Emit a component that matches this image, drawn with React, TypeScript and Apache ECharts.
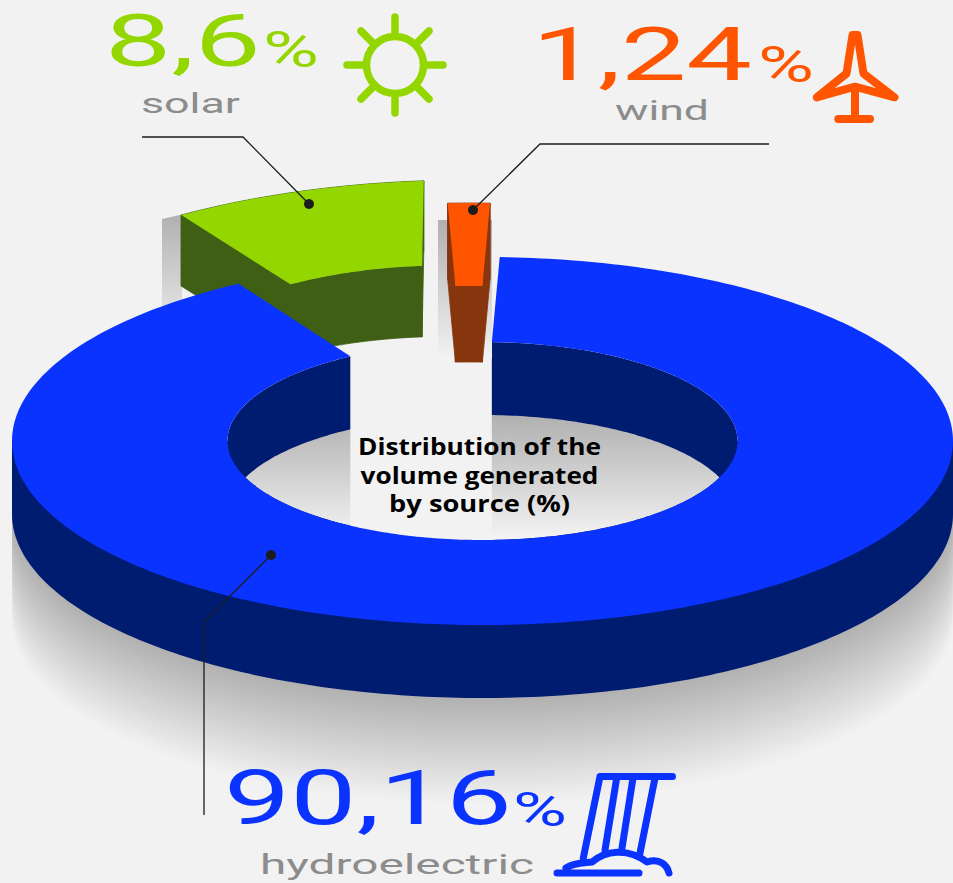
import React, { useEffect, useRef } from "react";
import * as echarts from "echarts";

// Source shares of generated volume, in percent.
const sourceNames = ["hydroelectric", "solar", "wind"];
const sourceShares = [90.16, 8.6, 1.24];
const shareLabels = ["90,16", "8,6", "1,24"];
const chartTitle = ["Distribution of the", "volume generated", "by source (%)"];

const WIDTH = 953;
const HEIGHT = 883;
const BG = "#f2f2f2";
const GREY_TEXT = "#8c8c8c";
const LEADER = "#1c1c1c";
const BLUE = "#0a33ff";
const BLUE_DARK = "#001c70";
const GREEN = "#94d600";
const GREEN_DARK = "#3f5f14";
const ORANGE = "#ff5500";
const ORANGE_DARK = "#87350d";

const DEG_PER_PERCENT = 3.6;
const RING = { cx: 482.5, cy: 441, rx: 470.5, ry: 184, innerRx: 255, innerRy: 99, depth: 73 };

// Placement of each ring slice: the two small ones are pulled out of the ring.
const hydroSlice = { start: 2.1, pad: 2.1, cx: RING.cx, cy: RING.cy, depth: RING.depth, shear: 0 };
const solarSlice = { start: -30.5, pad: 0, cx: 420, cy: 365, depth: 71, shear: -0.036, top: GREEN, side: GREEN_DARK };
const windSlice = {
  start: -2.6,
  pad: 0.7,
  cx: 469,
  cy: 387,
  depth: 76,
  shear: 0,
  innerRx: 300,
  innerRy: 101,
  top: ORANGE,
  side: ORANGE_DARK,
};

type Pt = [number, number];

function ellipsePoint(cx: number, cy: number, rx: number, ry: number, deg: number, shear = 0): Pt {
  const a = (deg * Math.PI) / 180;
  const dx = rx * Math.sin(a);
  return [cx + dx, cy - ry * Math.cos(a) + shear * dx];
}

function arcPoints(cx: number, cy: number, rx: number, ry: number, from: number, to: number, shear = 0): Pt[] {
  const steps = Math.max(2, Math.ceil(Math.abs(to - from)));
  const pts: Pt[] = [];
  for (let i = 0; i <= steps; i++) {
    pts.push(ellipsePoint(cx, cy, rx, ry, from + ((to - from) * i) / steps, shear));
  }
  return pts;
}

const lift = (pts: Pt[], dy: number): Pt[] => pts.map(([x, y]) => [x, y + dy] as Pt);
const poly = (points: Pt[], fill: any) => ({ type: "polygon", shape: { points }, style: { fill }, silent: true });
const vGrad = (from: string, to: string) =>
  new echarts.graphic.LinearGradient(0, 0, 0, 1, [
    { offset: 0, color: from },
    { offset: 1, color: to },
  ]);

function sliceEdges(slice: any, share: number) {
  const end = slice.start + share * DEG_PER_PERCENT + slice.pad;
  const outer = arcPoints(slice.cx, slice.cy, RING.rx, RING.ry, slice.start, end, slice.shear);
  const inner = arcPoints(
    slice.cx,
    slice.cy,
    slice.innerRx ?? RING.innerRx,
    slice.innerRy ?? RING.innerRy,
    slice.start,
    end,
    slice.shear,
  );
  return { end, outer, inner };
}

function greyLevel(t: number) {
  const v = Math.round(0xb0 + (0xf2 - 0xb0) * t);
  return `rgb(${v},${v},${v})`;
}

// Everything below the top faces: cast shadow, outer wall, hole and the gap left by the pulled-out slices.
function renderBackdrop(_params: any, api: any) {
  const { inner } = sliceEdges(hydroSlice, api.value(0));
  const children: any[] = [];
  const { cx, cy, rx, ry, innerRx, innerRy, depth } = RING;

  const lowerHalf = (offset: number) => [
    [cx - rx, cy] as Pt,
    ...arcPoints(cx, cy + offset, rx, ry, 270, 90),
    [cx + rx, cy] as Pt,
  ];
  const shadowLength = 108;
  for (let i = 36; i >= 1; i--) {
    const t = i / 36;
    children.push(poly(lowerHalf(depth + shadowLength * t), greyLevel(t)));
  }
  children.push(poly(lowerHalf(depth), BLUE_DARK));

  // Hole: dark inner wall and the lit floor seen through it.
  children.push(poly(arcPoints(cx, cy, innerRx, innerRy, 0, 360), BLUE_DARK));
  const halfGap = Math.acos(depth / 2 / innerRy) * (180 / Math.PI);
  const floor = [
    ...arcPoints(cx, cy + depth, innerRx, innerRy, -halfGap, halfGap),
    ...arcPoints(cx, cy, innerRx, innerRy, 180 - halfGap, 180 + halfGap),
  ];
  children.push(poly(floor, vGrad("#b0b0b0", "#f4f4f4")));

  // The missing wedge opens the far wall down to the floor.
  const left = inner[inner.length - 1][0];
  const right = inner[0][0];
  children.push(
    poly(
      [
        [left, cy - innerRy - 5],
        [right, cy - innerRy - 5],
        [right, cy + innerRy + 5],
        [left, cy + innerRy + 5],
      ],
      BG,
    ),
  );

  // Soft shadows cast behind the pulled-out slices.
  children.push(
    poly(
      [
        [162, 219],
        [182, 214.5],
        [182, 345],
        [162, 345],
      ],
      vGrad("#b0b0b0", BG),
    ),
  );
  children.push(
    poly(
      [
        [438, 220],
        [492, 220],
        [492, 358],
        [438, 358],
      ],
      vGrad("#b0b0b0", BG),
    ),
  );
  return { type: "group", children };
}

function renderDetached(params: any, api: any) {
  const slice = params.dataIndex === 0 ? solarSlice : windSlice;
  const { outer, inner } = sliceEdges(slice, api.value(0));
  const d = slice.depth;
  const oLast = outer[outer.length - 1];
  const iLast = inner[inner.length - 1];
  // A hairline stroke in the wall colour closes the seams between neighbouring faces.
  const wall = (a: Pt[]) => ({
    type: "polygon",
    shape: { points: [...a, ...lift(a, d).reverse()] },
    style: { fill: slice.side, stroke: slice.side, lineWidth: 0.8 },
    silent: true,
  });
  return {
    type: "group",
    children: [
      wall(outer),
      wall(inner),
      wall([outer[0], inner[0]]),
      wall([oLast, iLast]),
      poly([...outer, ...[...inner].reverse()], slice.top),
    ],
  };
}

function renderHydroTop(_params: any, api: any) {
  const { outer, inner } = sliceEdges(hydroSlice, api.value(0));
  return poly([...outer, ...[...inner].reverse()], BLUE);
}

// Line icons for the three sources, in page coordinates.
echarts.graphic.registerShape(
  "sunIcon",
  echarts.graphic.extendPath(
    "M423.5 65A28.5 28.5 0 1 1 366.5 65A28.5 28.5 0 1 1 423.5 65Z" +
      "M395 17V34M395 96V113M347 65H364M426 65H443" +
      "M361 31L372 42M429 31L418 42M361 99L372 88M429 99L418 88",
    {},
  ) as any,
);
echarts.graphic.registerShape(
  "turbineIcon",
  echarts.graphic.extendPath(
    "M852.5 35L857.5 35L863.5 73.5L894.5 97.3L855 86.7L816.7 97.3L846.5 73.5Z" +
      "M855 86.7V118M838.3 119H870",
    {},
  ) as any,
);
echarts.graphic.registerShape(
  "waterfallIcon",
  echarts.graphic.extendPath(
    "M600 776.5H672.5M600 776.5L583.3 858M616.7 778L605 850M633 778L622 848M655 778L640 853" +
      "M557 873H639M566 868C575 862 585 863 592 862C605 851 627 847 647 862C660 858 667 865 669 873",
    {},
  ) as any,
);

const measureCtx = document.createElement("canvas").getContext("2d") as CanvasRenderingContext2D;

// A text stretched to the given run width, for the extended display look.
function wideText(text: string, x: number, y: number, width: number, size: number, fill: string) {
  const font = `400 ${size}px Roboto`;
  measureCtx.font = font;
  const natural = measureCtx.measureText(text).width;
  return {
    type: "text",
    x,
    y,
    z: 50,
    silent: true,
    scaleX: width / natural,
    style: { text, font, fill, textAlign: "left", textVerticalAlign: "bottom" },
  };
}

function titleLine(text: string, y: number, width: number) {
  const font = '700 24px "Open Sans"';
  measureCtx.font = font;
  return {
    type: "text",
    x: 479.5,
    y,
    z: 50,
    silent: true,
    scaleX: width / measureCtx.measureText(text).width,
    style: { text, font, fill: "#000000", textAlign: "center", textVerticalAlign: "middle" },
  };
}

const leader = (points: number[][], dot: number[]) => [
  {
    type: "polyline",
    z: 50,
    silent: true,
    shape: { points },
    style: { stroke: LEADER, lineWidth: 1.3, fill: "none" },
  },
  {
    type: "circle",
    z: 50,
    silent: true,
    shape: { cx: dot[0], cy: dot[1], r: 5 },
    style: { fill: LEADER },
  },
];

const icon = (type: string, stroke: string, lineWidth: number) => ({
  type,
  x: 0,
  y: 0,
  z: 50,
  silent: true,
  style: { fill: "none", stroke, lineWidth, lineCap: "round", lineJoin: "round" },
});

const titleWidths = [243, 238, 181];

export default function App() {
  const ref = useRef<HTMLDivElement>(null);

  useEffect(() => {
    document.body.style.margin = "0";
    document.body.style.background = BG;
    const chart = echarts.init(ref.current as HTMLDivElement, undefined, { renderer: "svg" });
    const hydroData = [{ name: sourceNames[0], value: [sourceShares[0]] }];
    chart.setOption({
      animation: false,
      backgroundColor: BG,
      series: [
        { type: "custom", coordinateSystem: "none", z: 2, silent: true, renderItem: renderBackdrop, data: hydroData },
        {
          type: "custom",
          coordinateSystem: "none",
          z: 3,
          silent: true,
          renderItem: renderDetached,
          data: [
            { name: sourceNames[1], value: [sourceShares[1]] },
            { name: sourceNames[2], value: [sourceShares[2]] },
          ],
        },
        { type: "custom", coordinateSystem: "none", z: 4, silent: true, renderItem: renderHydroTop, data: hydroData },
      ],
      graphic: {
        elements: [
          ...leader([[142, 137], [243, 137], [309, 204]], [309, 204]),
          ...leader([[769, 144], [540, 144], [473, 210]], [473, 210]),
          ...leader([[204, 815], [204, 622], [271, 555]], [271, 555]),

          wideText(shareLabels[1], 105, 77, 156, 72, GREEN),
          wideText("%", 263, 75, 56, 49, GREEN),
          wideText(sourceNames[1], 141, 117, 99, 28, GREY_TEXT),
          icon("sunIcon", GREEN, 7.5),

          wideText(shareLabels[2], 532, 92, 220, 75, ORANGE),
          wideText("%", 758, 90, 56, 49, ORANGE),
          wideText(sourceNames[2], 615, 125, 94, 28, GREY_TEXT),
          icon("turbineIcon", ORANGE, 8),

          wideText(shareLabels[0], 224, 836, 288, 75, BLUE),
          wideText("%", 513, 834, 54, 49, BLUE),
          wideText(sourceNames[0], 260, 879, 274, 28, GREY_TEXT),
          icon("waterfallIcon", BLUE, 7),

          ...chartTitle.map((line, i) => titleLine(line, 445 + i * 29.3, titleWidths[i])),
        ],
      },
    });
    return () => chart.dispose();
  }, []);

  return (
    <div
      ref={ref}
      style={{ position: "absolute", left: 0, top: 0, width: WIDTH, height: HEIGHT, overflow: "hidden" }}
    />
  );
}
